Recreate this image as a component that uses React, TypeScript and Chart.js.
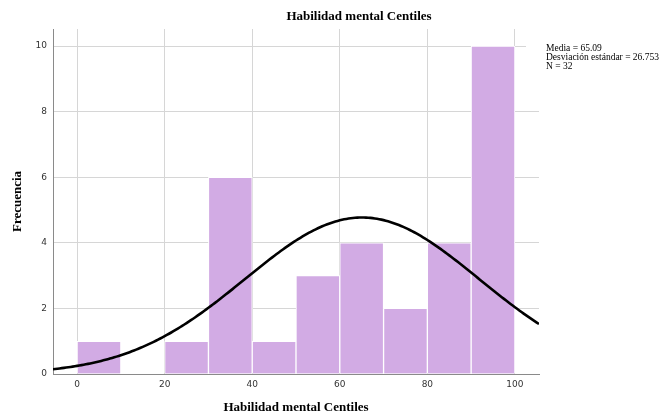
import React, { useEffect, useRef } from "react";
import { Chart, registerables } from "chart.js";

Chart.register(...registerables);

// Histogram bins (centiles), width 10
const binCenters = [5, 15, 25, 35, 45, 55, 65, 75, 85, 95];
const frequencies = [1, 0, 1, 6, 1, 3, 4, 2, 4, 10];
const xTicks = [0, 20, 40, 60, 80, 100];
const yTicks = [0, 2, 4, 6, 8, 10];

// Summary statistics shown in the legend; the normal curve uses them
const MEAN = 65.09;
const SD = 26.753;
const N = 32;
const BIN_WIDTH = 10;

const X_MIN = -5.5;
const X_MAX = 105.5;
const Y_MAX = 10.52;

const TITLE = "Habilidad mental Centiles";
const X_TITLE = "Habilidad mental Centiles";
const Y_TITLE = "Frecuencia";
const statsLines = [
  "Media = 65.09",
  "Desviación estándar = 26.753",
  "N = 32",
];

// Expected frequency per bin under a normal distribution with the stats above
function normalCurve() {
  const pts: { x: number; y: number }[] = [];
  const steps = 222;
  for (let i = 0; i <= steps; i++) {
    const x = X_MIN + ((X_MAX - X_MIN) * i) / steps;
    const z = (x - MEAN) / SD;
    const y = (N * BIN_WIDTH * Math.exp(-0.5 * z * z)) / (SD * Math.sqrt(2 * Math.PI));
    pts.push({ x, y });
  }
  return pts;
}

const SERIF = '"Liberation Serif", "Times New Roman", serif';
const SANS = '"DejaVu Sans", sans-serif';

export default function App() {
  const ref = useRef<HTMLCanvasElement | null>(null);

  useEffect(() => {
    if (!ref.current) return;

    const overlay = {
      id: "overlay",
      afterDraw(chart: any) {
        const ctx = chart.ctx;
        ctx.save();
        // main title
        ctx.fillStyle = "#000";
        ctx.font = `bold 13px ${SERIF}`;
        ctx.textAlign = "center";
        ctx.textBaseline = "middle";
        ctx.fillText(TITLE, 359, 17);
        // statistics box
        ctx.fillStyle = "#fff";
        ctx.fillRect(526, 38, 133, 34);
        ctx.fillStyle = "#000";
        ctx.font = `9.5px ${SERIF}`;
        ctx.textAlign = "left";
        ctx.textBaseline = "alphabetic";
        statsLines.forEach((t, i) => ctx.fillText(t, 546, 51 + i * 9));
        ctx.restore();
      },
    };

    const chart = new Chart(ref.current, {
      type: "bar",
      data: {
        datasets: [
          {
            type: "line",
            data: normalCurve(),
            borderColor: "#000",
            borderWidth: 2.6,
            pointRadius: 0,
            tension: 0,
            fill: false,
            order: 0,
          } as any,
          {
            type: "bar",
            data: binCenters.map((x, i) => ({ x, y: frequencies[i] })),
            backgroundColor: "#d2abe4",
            borderColor: "#ffffff",
            borderWidth: 1,
            borderSkipped: "bottom",
            barPercentage: 1,
            categoryPercentage: 1,
            order: 1,
          } as any,
        ],
      },
      options: {
        responsive: false,
        animation: false,
        plugins: {
          legend: { display: false },
          title: { display: false },
          tooltip: { enabled: false },
        },
        layout: { padding: { left: 0, right: 120, top: 29, bottom: 0 } },
        scales: {
          x: {
            type: "linear",
            min: X_MIN,
            max: X_MAX,
            offset: false,
            afterBuildTicks: (s: any) => {
              s.ticks = xTicks.map((v) => ({ value: v }));
            },
            afterFit: (s: any) => {
              s.height = 41;
            },
            grid: { color: "#d6d6d6", lineWidth: 1, drawTicks: false, offset: false },
            border: { color: "#8a8a8a", width: 1 },
            ticks: {
              color: "#333",
              font: { family: SANS, size: 9 },
              padding: 5,
              maxRotation: 0,
            },
            title: {
              display: true,
              text: X_TITLE,
              color: "#000",
              font: { family: SERIF, size: 13, weight: "bold" },
              padding: { top: 0, bottom: 0 },
            },
          },
          y: {
            type: "linear",
            min: 0,
            max: Y_MAX,
            afterBuildTicks: (s: any) => {
              s.ticks = yTicks.map((v) => ({ value: v }));
            },
            afterFit: (s: any) => {
              s.width = 53;
            },
            grid: { color: "#d6d6d6", lineWidth: 1, drawTicks: false },
            border: { color: "#8a8a8a", width: 1 },
            ticks: {
              color: "#333",
              font: { family: SANS, size: 9 },
              padding: 6,
            },
            title: {
              display: true,
              text: Y_TITLE,
              color: "#000",
              font: { family: SERIF, size: 13, weight: "bold" },
              padding: { top: 10, bottom: 0 },
            },
          },
        },
      },
      plugins: [overlay],
    } as any);

    return () => chart.destroy();
  }, []);

  return (
    <div style={{ position: "absolute", left: 0, top: 0, width: 659, height: 415, background: "#fff" }}>
      <canvas ref={ref} width={659} height={415} style={{ display: "block" }} />
    </div>
  );
}
